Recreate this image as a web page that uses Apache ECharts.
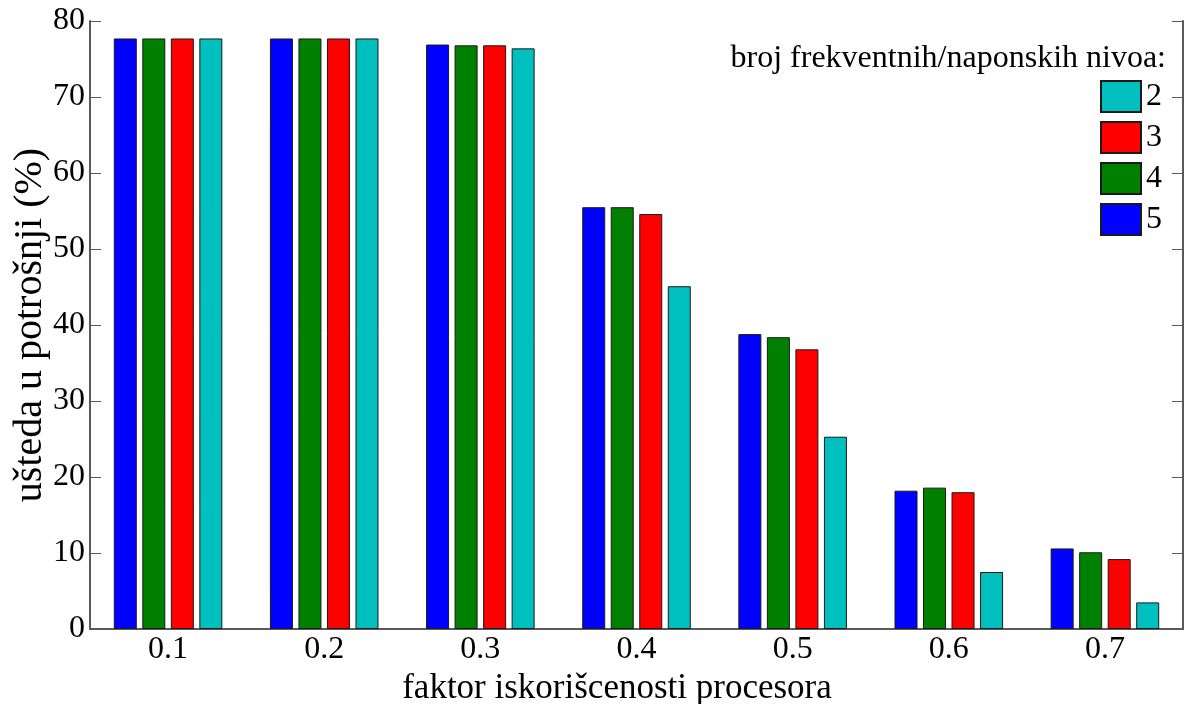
<!DOCTYPE html>
<html>
<head>
<meta charset="utf-8">
<script src="https://cdn.jsdelivr.net/npm/echarts@6/dist/echarts.min.js"></script>
<style>
  html, body { margin: 0; padding: 0; background: #fff; }
  #chart { width: 1184px; height: 704px; }
</style>
</head>
<body>
<div id="chart"></div>
<script>
// Processor utilisation factor (categories)
const categories = ['0.1', '0.2', '0.3', '0.4', '0.5', '0.6', '0.7'];

// Energy savings (%) per number of frequency/voltage levels
const levels5 = [77.7, 77.7, 76.9, 55.5, 38.8, 18.2, 10.6];
const levels4 = [77.7, 77.7, 76.8, 55.5, 38.4, 18.6, 10.1];
const levels3 = [77.7, 77.7, 76.8, 54.6, 36.8, 18.0, 9.2];
const levels2 = [77.7, 77.7, 76.4, 45.1, 25.3, 7.5, 3.5];

const yTicks = { min: 0, max: 80, interval: 10 };

const FONT = '"Liberation Serif", "Times New Roman", serif';
const AXIS_COLOR = '#5a5a5a';

const chart = echarts.init(document.getElementById('chart'));

function barSeries(name, data, color) {
  return {
    name: name,
    type: 'bar',
    xAxisIndex: 0,
    yAxisIndex: 0,
    data: data,
    barWidth: 23,
    barGap: '24%',
    itemStyle: { color: color, borderColor: '#1a1a1a', borderWidth: 1 },
    emphasis: { disabled: true }
  };
}

chart.setOption({
  animation: false,
  backgroundColor: '#ffffff',
  title: {
    text: 'broj frekventnih/naponskih nivoa:',
    right: 18,
    top: 43,
    padding: 0,
    textStyle: { fontFamily: FONT, fontSize: 32, fontWeight: 'normal', color: '#000' }
  },
  legend: {
    orient: 'vertical',
    left: 1100,
    top: 80,
    padding: 0,
    itemWidth: 40,
    itemHeight: 31,
    itemGap: 8,
    icon: 'rect',
    data: ['2', '3', '4', '5'],
    textStyle: { fontFamily: FONT, fontSize: 32, color: '#000' }
  },
  grid: { left: 90, right: 1, top: 21, bottom: 75, outerBoundsMode: 'none' },
  xAxis: [
    {
      type: 'category',
      data: categories,
      position: 'bottom',
      boundaryGap: true,
      name: 'faktor iskorišcenosti procesora',
      nameLocation: 'middle',
      nameGap: 28,
      nameTextStyle: { fontFamily: FONT, fontSize: 35, color: '#000', padding: [0, 39, 0, 0] },
      axisLine: { lineStyle: { color: AXIS_COLOR, width: 2 } },
      axisTick: { inside: true, alignWithLabel: true, length: 11, lineStyle: { color: AXIS_COLOR } },
      axisLabel: { fontFamily: FONT, fontSize: 32, color: '#000', margin: 5 },
      splitLine: { show: false }
    },
    {
      type: 'category',
      data: categories,
      position: 'top',
      boundaryGap: true,
      axisLine: { lineStyle: { color: AXIS_COLOR, width: 2 } },
      axisTick: { inside: true, alignWithLabel: true, length: 11, lineStyle: { color: AXIS_COLOR } },
      axisLabel: { show: false },
      splitLine: { show: false }
    }
  ],
  yAxis: [
    {
      type: 'value',
      min: yTicks.min,
      max: yTicks.max,
      interval: yTicks.interval,
      position: 'left',
      name: 'ušteda u potrošnji (%)',
      nameLocation: 'middle',
      nameGap: 40,
      nameMoveOverlap: false,
      nameTextStyle: { fontFamily: FONT, fontSize: 40, color: '#000' },
      axisLine: { show: true, lineStyle: { color: AXIS_COLOR, width: 2 } },
      axisTick: { show: true, inside: true, length: 11, lineStyle: { color: AXIS_COLOR } },
      axisLabel: { fontFamily: FONT, fontSize: 32, color: '#000', margin: 5 },
      splitLine: { show: false }
    },
    {
      type: 'value',
      min: yTicks.min,
      max: yTicks.max,
      interval: yTicks.interval,
      position: 'right',
      axisLine: { show: true, lineStyle: { color: AXIS_COLOR, width: 2 } },
      axisTick: { show: true, inside: true, length: 11, lineStyle: { color: AXIS_COLOR } },
      axisLabel: { show: false },
      splitLine: { show: false }
    }
  ],
  series: [
    barSeries('5', levels5, '#0000ff'),
    barSeries('4', levels4, '#008000'),
    barSeries('3', levels3, '#ff0000'),
    barSeries('2', levels2, '#00bfbf')
  ]
});
</script>
</body>
</html>
